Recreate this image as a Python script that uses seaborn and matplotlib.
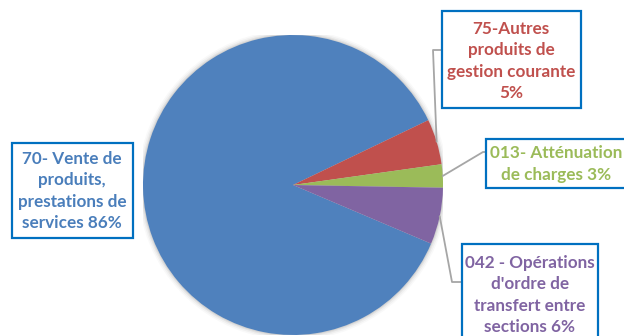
import numpy as np
import pandas as pd
import matplotlib
matplotlib.use("Agg")
import matplotlib.pyplot as plt
import seaborn as sns
from matplotlib.patches import Rectangle, Circle
from matplotlib.lines import Line2D

# Data
categories = ["70- Vente de produits", "75-Autres produits", "013- Atténuation", "042 - Opérations"]
shares = [86.5, 4.9, 2.5, 6.1]
labels = [
    "70- Vente de\nproduits,\nprestations de\nservices 86%",
    "75-Autres\nproduits de\ngestion courante\n5%",
    "013- Atténuation\nde charges 3%",
    "042 - Opérations\nd'ordre de\ntransfert entre\nsections 6%",
]
colors = ["#4F81BD", "#C0504D", "#9BBB59", "#8064A2"]
text_colors = ["#4A7EBB", "#C0504D", "#9BBB59", "#8064A2"]

df = pd.DataFrame({"categorie": categories, "part": shares, "label": labels})

sns.set_theme(style="white")
plt.rcParams["font.family"] = ["Lato", "DejaVu Sans"]

W, H = 624, 336
fig = plt.figure(figsize=(W / 100, H / 100), dpi=100)


def fig_xy(x, y):
    # pixel (from top-left) -> figure fraction
    return x / W, 1 - y / H


# pie axes: centre (293, 185), radius 150 px
ax = fig.add_axes([143 / W, 1 / H, 300 / W, 300 / H])
pal = sns.color_palette(colors)

# soft shadow around the pie
for r, a in [(1.035, 0.025), (1.025, 0.035), (1.015, 0.05), (1.007, 0.07)]:
    ax.add_patch(Circle((0, 0), r, facecolor="black", alpha=a, lw=0, zorder=0))

wedges, _ = ax.pie(df["part"], colors=pal, startangle=-23, counterclock=False,
                   wedgeprops=dict(linewidth=0), radius=1)
for w in wedges:
    w.set_zorder(2)
ax.set_xlim(-1, 1)
ax.set_ylim(-1, 1)
ax.axis("off")

# label boxes (left, top, right, bottom) in pixels, text centre
boxes = [(12, 143, 133, 238), (442, 11, 581, 108), (486, 139, 626, 188), (462, 244, 598, 345)]
centres = [(72, 191), (511, 61), (556, 164), (530, 295)]
for (l, t, r, b), (cx, cy), txt, tc in zip(boxes, centres, df["label"], text_colors):
    x0, y0 = fig_xy(l, b)
    x1, y1 = fig_xy(r, t)
    fig.add_artist(Rectangle((x0, y0), x1 - x0, y1 - y0, transform=fig.transFigure,
                             facecolor="white", edgecolor="#0070C0", lw=1.6, zorder=5))
    tx, ty = fig_xy(cx, cy)
    fig.text(tx, ty, txt, ha="center", va="center", fontsize=12.3, fontweight="bold",
             color=tc, linespacing=1.42, zorder=6)

# leader lines: from wedge edge to bend point to box
bends = {1: [(433, 50), (442, 50)], 2: [(483, 152), (486, 152)], 3: [(452, 282), (462, 282)]}
fig.canvas.draw()
inv = fig.transFigure.inverted()
for i, pts in bends.items():
    w = wedges[i]
    ang = np.deg2rad((w.theta1 + w.theta2) / 2)
    px = ax.transData.transform((np.cos(ang), np.sin(ang)))
    start = inv.transform(px)
    xs = [start[0]] + [fig_xy(*p)[0] for p in pts]
    ys = [start[1]] + [fig_xy(*p)[1] for p in pts]
    fig.add_artist(Line2D(xs, ys, transform=fig.transFigure, color="#A6A6A6", lw=1.3, zorder=4))

fig.savefig("out.png", dpi=100)
